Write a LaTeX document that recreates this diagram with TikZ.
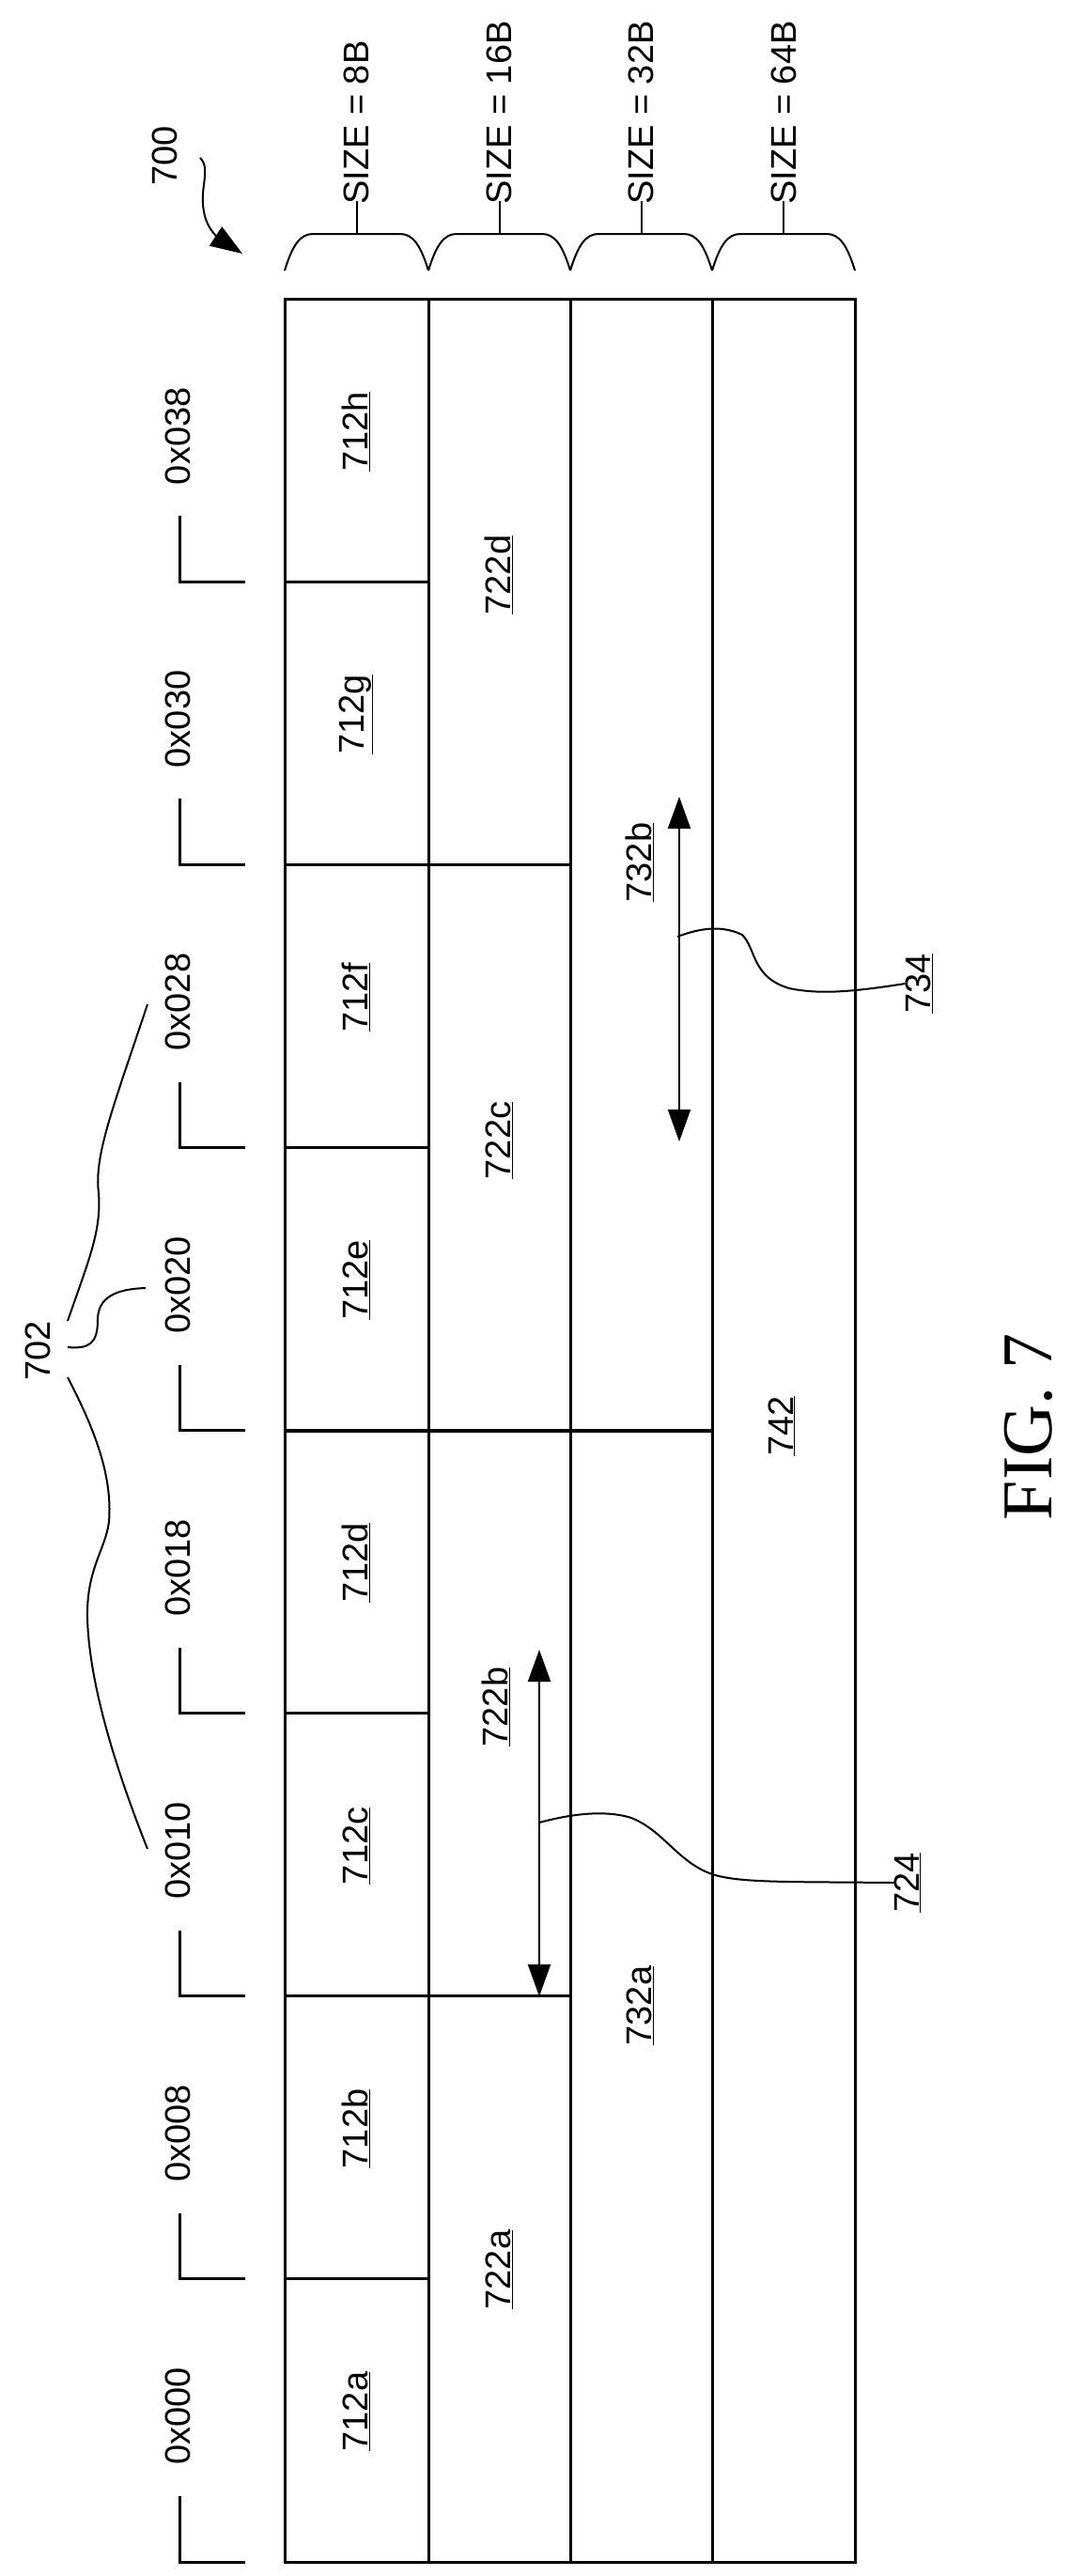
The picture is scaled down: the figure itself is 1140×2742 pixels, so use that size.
\documentclass[tikz,border=0pt]{standalone}
\usepackage{fontspec}
\setmainfont{Liberation Sans}
\newfontfamily\figserif{Liberation Serif}
\usetikzlibrary{arrows.meta}
\begin{document}
\begin{tikzpicture}[x=1pt,y=-1pt,
  box/.style={line width=3pt},
  thin/.style={line width=2pt},
  lbl/.style={rotate=90,font=\fontsize{38}{40}\selectfont,inner sep=0pt},
  ref/.style={lbl},
  tri/.style={-{Triangle[length=34pt,width=24pt]}},
  dtri/.style={{Triangle[length=34pt,width=24pt]}-{Triangle[length=34pt,width=24pt]}}]
\useasboundingbox (0,0) rectangle (1140,2742);
% column boundaries
\def\xa{303}\def\xb{456}\def\xc{607}\def\xd{758}\def\xe{910}
% rows Y_k = 2727 - 301.1 k
\draw[box] (\xa,318) rectangle (\xe,2727);
\foreach \x in {\xb,\xc,\xd} \draw[box] (\x,318) -- (\x,2727);
\foreach \k in {1,...,7} \draw[box] (\xa,{2727-301.1*\k}) -- (\xb,{2727-301.1*\k});
\foreach \k in {2,6} \draw[box] (\xb,{2727-301.1*\k}) -- (\xc,{2727-301.1*\k});
\draw[line width=4.5pt] (\xa,1523) -- (\xd,1523);
% address labels
\foreach \k/\t in {0/0x000,1/0x008,2/0x010,3/0x018,4/0x020,5/0x028,6/0x030,7/0x038}{
  \draw[box] (261,{2727-301.1*\k}) -- (191,{2727-301.1*\k}) -- (191,{2727-301.1*\k-70});
  \node[lbl] (ad\k) at (189,{2727-301.1*\k-155}) {\t};
}
% cell labels
\foreach \k/\t in {0/712a,1/712b,2/712c,3/712d,4/712e,5/712f,6/712g,7/712h}
  \node[ref] (c\k) at (379,{2727-301.1*\k-160}) {\underline{\t}};
\node[ref] (l722a) at (531,2416) {\underline{722a}};
\node[ref] (l722b) at (528,1817) {\underline{722b}};
\node[ref] (l722c) at (531,1214) {\underline{722c}};
\node[ref] (l722d) at (531,612) {\underline{722d}};
\node[ref] (l732a) at (681,2135) {\underline{732a}};
\node[ref] (l732b) at (681,918) {\underline{732b}};
\node[ref] (l742) at (832,1518) {\underline{742}};
% size braces
\foreach \l/\r/\t [count=\i] in {303/456/8B,456/607/16B,607/758/32B,758/910/64B}{
  \coordinate (bl\i) at (\l,288);
  \coordinate (br\i) at (\r,288);
  \coordinate (bm\i) at ({(\l+\r)/2},249);
  \draw[thin] (bl\i) .. controls (\l+8,262) and (\l+16,249) .. (\l+30,249)
     -- (\r-30,249) .. controls (\r-16,249) and (\r-8,262) .. (br\i);
  \draw[thin] (bm\i) -- ++(0,-35) coordinate (bs\i);
  \node[lbl,anchor=west] (sz\i) at ([yshift=-4pt]bs\i) {SIZE = \t};
}
% 700
\node[lbl] (n700) at (175,166) {700};
\coordinate (a700) at (213,168);
\coordinate (t700) at (258,270);
\draw[thin,tri] (a700) .. controls (225,180) and (212,200) .. (217,225) .. controls (220,245) and (235,255) .. (t700);
% 702
\node[lbl] (n702) at (40,1438) {702};
\coordinate (e028) at (157,1069);
\coordinate (e020) at (155,1371);
\coordinate (e010) at (157,1968);
\draw[thin] (72,1406) .. controls (95,1340) and (108,1310) .. (105,1270) .. controls (100,1230) and (120,1180) .. (e028);
\draw[thin] (72,1434) .. controls (95,1436) and (104,1430) .. (104,1405) .. controls (104,1380) and (125,1372) .. (e020);
\draw[thin] (72,1466) .. controls (100,1520) and (120,1570) .. (116,1620) .. controls (112,1650) and (92,1670) .. (93,1722) .. controls (95,1800) and (130,1900) .. (e010);
% arrows
\coordinate (u722) at (574,1756);
\coordinate (d722) at (574,2125);
\draw[thin,dtri] (u722) -- (d722);
\coordinate (u732) at (723,848);
\coordinate (d732) at (723,1215);
\draw[thin,dtri] (u732) -- (d732);
% leaders
\node[ref] (n724) at (966,2004) {\underline{724}};
\node[ref] (n734) at (978,1047) {\underline{734}};
\draw[thin] (574,1940) .. controls (600,1933) and (640,1925) .. (672,1935) .. controls (710,1950) and (725,1990) .. (770,1998) .. controls (800,2004) and (850,2003) .. (n724.north);
\draw[thin] (721,997) .. controls (740,990) and (765,983) .. (790,995) .. controls (805,1010) and (800,1040) .. (840,1052) .. controls (870,1058) and (900,1057) .. (n734.north);
% figure caption
\node[rotate=90,font=\figserif\fontsize{76}{80}\selectfont,inner sep=0pt] (fig) at (1095,1519) {FIG. 7};
\end{tikzpicture}
\end{document}
